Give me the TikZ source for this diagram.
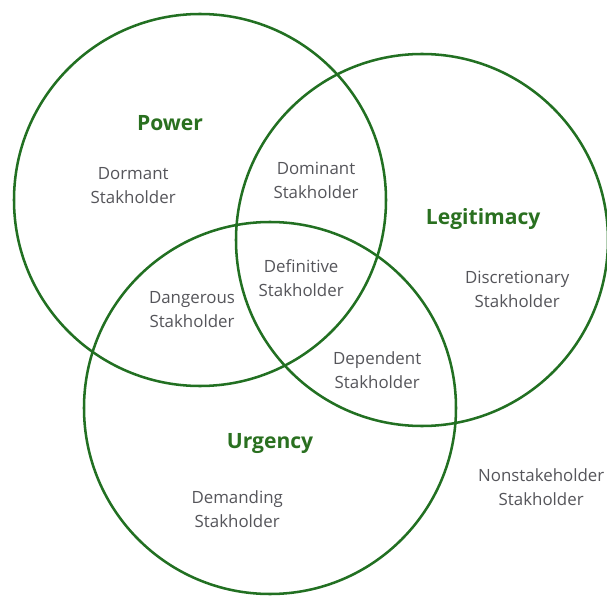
\documentclass[tikz,border=0pt]{standalone}
\usepackage{fontspec}
\setmainfont{Open Sans}
\definecolor{setgreen}{RGB}{34,112,34}
\definecolor{labelgreen}{RGB}{42,112,32}
\definecolor{textgray}{RGB}{85,85,90}
\begin{document}
\begin{tikzpicture}[
        set/.style={circle, draw=setgreen, line width=1.8pt, minimum size=9.3cm, inner sep=0pt},
        title/.style={font=\fontsize{15}{18}\selectfont\bfseries, text=labelgreen},
        kind/.style={align=center, font=\fontsize{12}{17}\selectfont, text=textgray}
    ]
        \useasboundingbox (0, 0) rectangle (15.175, -14.925);
        \node[set] (power) at (5.0, -5.0) {};
        \node[set] (legitimacy) at (10.55, -6.0) {};
        \node[set] (urgency) at (6.75, -10.2) {};

        \node[title] (powerlabel) at (4.25, -3.08) {Power};
        \node[title] (legitimacylabel) at (12.08, -5.48) {Legitimacy};
        \node[title] (urgencylabel) at (6.75, -11.1) {Urgency};

        \node[kind] (dormant) at (3.33, -4.63) {Dormant\\Stakholder};
        \node[kind] (dominant) at (7.9, -4.5) {Dominant\\Stakholder};
        \node[kind] (discretionary) at (12.93, -7.23) {Discretionary\\Stakholder};
        \node[kind] (definitive) at (7.53, -6.95) {Definitive\\Stakholder};
        \node[kind] (dangerous) at (4.8, -7.73) {Dangerous\\Stakholder};
        \node[kind] (dependent) at (9.43, -9.25) {Dependent\\Stakholder};
        \node[kind] (demanding) at (5.93, -12.73) {Demanding\\Stakholder};
        \node[kind] (nonstakeholder) at (13.53, -12.18) {Nonstakeholder\\Stakholder};
    \end{tikzpicture}
\end{document}
